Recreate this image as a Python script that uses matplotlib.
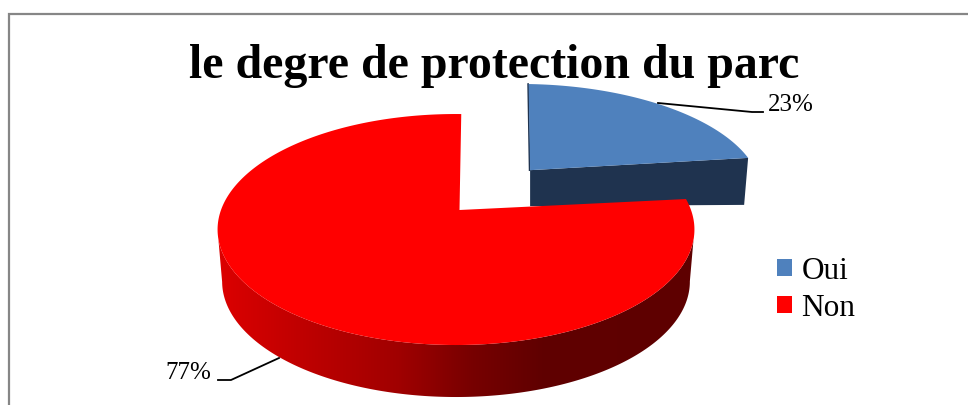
import numpy as np
import matplotlib
matplotlib.use("Agg")
import matplotlib.pyplot as plt
from matplotlib.colors import LinearSegmentedColormap
from matplotlib.patches import Patch, Polygon

title = "le degre de protection du parc"
labels = ["Oui", "Non"]
values = [23, 77]
explode = [0.47, 0]
top_colors = ["#4F81BD", "#FF0000"]
blue_side = "#1F334F"

plt.rcParams["font.family"] = ["Liberation Serif", "DejaVu Serif"]


# the tilted pie plane, in pixels of the picture
def project(theta, radius, cx=456, b=235, mid=0.0, off=0.0, depth=0.0, inset=0.0):
    x = radius * np.sin(theta) + off * np.sin(mid)
    y = radius * np.cos(theta) + off * np.cos(mid)
    w = 1 + 0.169 * y
    return cx + (b - inset) * x / w, 210 + depth - 112.2 * y / w


fig = plt.figure(figsize=(9.68, 4.05), dpi=100)
ax = fig.add_axes([0, 0, 1, 1])

# chart frame, right and bottom sides are cut off in the picture
ax.plot([9, 9, 968], [405, 14, 14], color="#868686", lw=1.6, solid_joinstyle="miter")

shares = np.array(values) / sum(values) * 2 * np.pi
ends = np.cumsum(shares)
starts = ends - shares

# Oui slice, pulled out
mid = (starts[0] + ends[0]) / 2
t = np.linspace(starts[0] + np.radians(2.4), ends[0], 80)
ox, oy = project(0.0, 0.0, cx=460, b=239, mid=mid, off=explode[0], depth=-2.5)
bx, by = project(t, 1.0, cx=460, b=239, mid=mid, off=explode[0], depth=-2.5)
ax.add_patch(Polygon([(ox, oy), (bx[-1], by[-1]), (bx[-1] - 4, by[-1] + 47), (ox, oy + 36)],
                     closed=True, fc=blue_side, ec="none", zorder=2))
ax.plot([bx[0] - 0.5, ox - 0.5], [by[0], oy], color=blue_side, lw=1.2, zorder=2)
ax.add_patch(Polygon(np.column_stack([np.r_[ox, bx], np.r_[oy, by]]),
                     closed=True, fc=top_colors[0], ec="none", zorder=3))

# Non slice: side wall with the shading, then the top
turn = np.radians(1.5)
t = np.linspace(starts[1], ends[1], 400) + turn
rx, ry = project(t, 1.0)
right, left = rx.argmax(), rx.argmin()
ux, uy = project(t[right:left + 1], 1.0, depth=52, inset=4.5)
wall = Polygon(np.column_stack([np.r_[rx[right:left + 1], ux[::-1]], np.r_[ry[right:left + 1], uy[::-1]]]),
               closed=True, fc="none", ec="none", transform=ax.transData)
ax.add_patch(wall)
shade = LinearSegmentedColormap.from_list("shade", [(0.0, "#DC0000"), (0.17, "#C00000"), (0.38, "#A00000"),
                                                    (0.53, "#780000"), (0.68, "#600000"), (1.0, "#5E0000")])
img = ax.imshow(np.linspace(0, 1, 256).reshape(1, -1), cmap=shade, extent=(218, 694, 405, 100),
                aspect="auto", zorder=4)
img.set_clip_path(wall)

ax.add_patch(Polygon(np.column_stack([np.r_[459.5, rx], np.r_[210, ry]]),
                     closed=True, fc=top_colors[1], ec="none", zorder=5))

# leader lines and percentages
ax.plot([658, 752, 763], [103, 112, 112], color="black", lw=1.3, zorder=6)
ax.plot([218, 231, 279], [380, 380, 358], color="black", lw=1.3, zorder=6)
ax.text(768, 105, f"{values[0]}%", fontsize=18, ha="left", va="center", zorder=7)
ax.text(165, 373, f"{values[1]}%", fontsize=18, ha="left", va="center", zorder=7)

ax.text(494.5, 66, title, fontsize=34.5, fontweight="bold", ha="center", va="center", zorder=7)

handles = [Patch(fc=c, ec="none") for c in top_colors]
ax.legend(handles, labels, loc="upper left", bbox_to_anchor=(771, 250.5), bbox_transform=ax.transData,
          frameon=False, fontsize=22.5, handlelength=0.47, handleheight=0.47, handletextpad=0.3,
          labelspacing=0.25, borderpad=0.2, borderaxespad=0)

ax.set_xlim(0, 968)
ax.set_ylim(405, 0)
ax.axis("off")
fig.savefig("out.png", dpi=100)
